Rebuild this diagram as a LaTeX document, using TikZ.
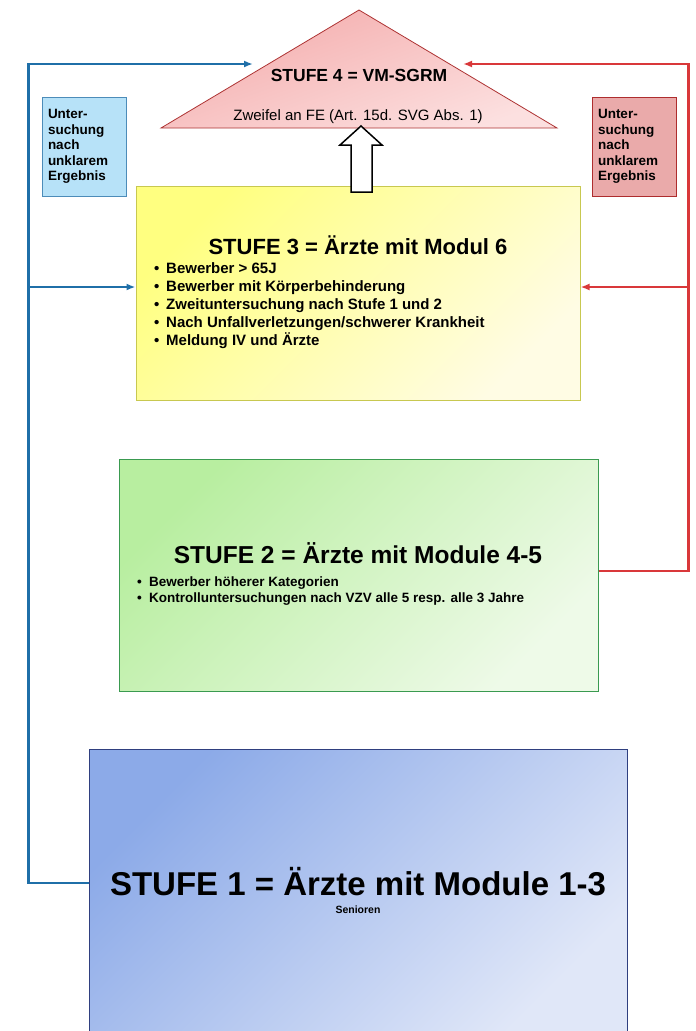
\documentclass[tikz,border=0pt]{standalone}
\usepackage{fontspec}
\setmainfont{Liberation Sans}
\usetikzlibrary{arrows.meta,positioning}

\definecolor{bluelk}{HTML}{1F6FA8}
\definecolor{redlk}{HTML}{D9383A}

\begin{document}
\begin{tikzpicture}[x=1pt,y=-1pt]
\tikzstyle {box}=[rectangle, inner sep=0pt, line width=1pt]
\tikzstyle {sidebox}=[box, minimum width=84pt, minimum height=99pt, text width=72pt, align=left, font=\fontsize{13.5}{15.5}\selectfont\bfseries]
\tikzstyle {title}=[inner sep=0pt, font=\bfseries]
\tikzstyle {item}=[inner sep=0pt, anchor=west]
\tikzstyle {bluelink}=[draw=bluelk, line width=2.4pt, -{Latex[length=9pt,width=7pt]}]
\tikzstyle {redlink}=[draw=redlk, line width=2.4pt, -{Latex[length=9pt,width=7pt]}]
\useasboundingbox (0,0) rectangle (696,1031);
% stufe 4
\draw[draw=red!60!black!80, line width=0.8pt, top color={rgb,255:red,244;green,172;blue,172}, bottom color={rgb,255:red,252;green,224;blue,224}, shading angle=20] (359,10) -- (557,128) -- (161,128) -- cycle;
\coordinate (t4l) at (253,64);
\coordinate (t4r) at (463,64);
\node (s4) [title, font=\fontsize{17.5}{20}\selectfont\bfseries] at (359,75) {STUFE 4 = VM-SGRM};
\node (s4sub) [inner sep=0pt, font=\fontsize{15}{18}\selectfont] at (358,117) {Zweifel an FE (Art. 15d. SVG Abs. 1)};
% side boxes
\node (unb) [sidebox, draw=bluelk!80, fill={rgb,255:red,183;green,226;blue,248}] at (84,146.5) {Unter-\\suchung\\nach\\unklarem\\Ergebnis};
\node (unr) [sidebox, draw=redlk!80!black, fill={rgb,255:red,234;green,170;blue,170}] at (634,146.5) {Unter-\\suchung\\nach\\unklarem\\Ergebnis};
% stufe 3
\node (s3) [box, draw={rgb,255:red,200;green,200;blue,80}, minimum width=444pt, minimum height=214pt, top color={rgb,255:red,255;green,255;blue,128}, bottom color={rgb,255:red,255;green,252;blue,228}, shading angle=45] at (358,293) {};
\node (s3t) [title, font=\fontsize{22}{26}\selectfont\bfseries] at (358,245) {STUFE 3 = Ärzte mit Modul 6};
\node (s3a) [item, font=\fontsize{15}{18}\selectfont\bfseries] at (154,268) {\makebox[12pt][l]{\textbullet}Bewerber > 65J};
\node (s3b) [item, font=\fontsize{15}{18}\selectfont\bfseries] at (154,288) {\makebox[12pt][l]{\textbullet}Bewerber mit Körperbehinderung};
\node (s3c) [item, font=\fontsize{15}{18}\selectfont\bfseries] at (154,306) {\makebox[12pt][l]{\textbullet}Zweituntersuchung nach Stufe 1 und 2};
\node (s3d) [item, font=\fontsize{15}{18}\selectfont\bfseries] at (154,324) {\makebox[12pt][l]{\textbullet}Nach Unfallverletzungen/schwerer Krankheit};
\node (s3e) [item, font=\fontsize{15}{18}\selectfont\bfseries] at (154,341) {\makebox[12pt][l]{\textbullet}Meldung IV und Ärzte};
% hollow arrow
\draw[fill=white, line width=1.5pt] (361,126) -- (382,145) -- (372,145) -- (372,192) -- (351,192) -- (351,145) -- (340,145) -- cycle;
% stufe 2
\node (s2) [box, draw={rgb,255:red,58;green,154;blue,80}, minimum width=479pt, minimum height=232pt, top color={rgb,255:red,184;green,238;blue,160}, bottom color={rgb,255:red,238;green,250;blue,232}, shading angle=45] at (358.5,575) {};
\node (s2t) [title, font=\fontsize{24.5}{28}\selectfont\bfseries] at (358,553) {STUFE 2 = Ärzte mit Module 4-5};
\node (s2a) [item, font=\fontsize{13.5}{16}\selectfont\bfseries] at (137,583) {\makebox[12pt][l]{\textbullet}Bewerber höherer Kategorien};
\node (s2b) [item, font=\fontsize{13.5}{16}\selectfont\bfseries] at (137,599) {\makebox[12pt][l]{\textbullet}Kontrolluntersuchungen nach VZV alle 5 resp. alle 3 Jahre};
% stufe 1
\node (s1) [box, draw={rgb,255:red,47;green,63;blue,127}, minimum width=538pt, minimum height=285pt, top color={rgb,255:red,140;green,170;blue,232}, bottom color={rgb,255:red,224;green,231;blue,248}, shading angle=45] at (358,891.5) {};
\node (s1t) [title, font=\fontsize{33}{38}\selectfont\bfseries] at (358,882) {STUFE 1 = Ärzte mit Module 1-3};
\node (s1s) [title, font=\fontsize{10.5}{12}\selectfont\bfseries] at (358,910) {Senioren};
% links
\draw[bluelink] ([yshift=8.5pt]s1.west) -- ++(-60,0) |- (t4l);
\coordinate (bj) at (29,287);
\draw[bluelink] (bj) -- (bj -| s3.west);
\draw[redlink] ([yshift=4pt]s2.east) -- ++(90,0) |- (t4r);
\coordinate (rj) at (688,287);
\draw[redlink] (rj) -- (rj -| s3.east);
\end{tikzpicture}
\end{document}
